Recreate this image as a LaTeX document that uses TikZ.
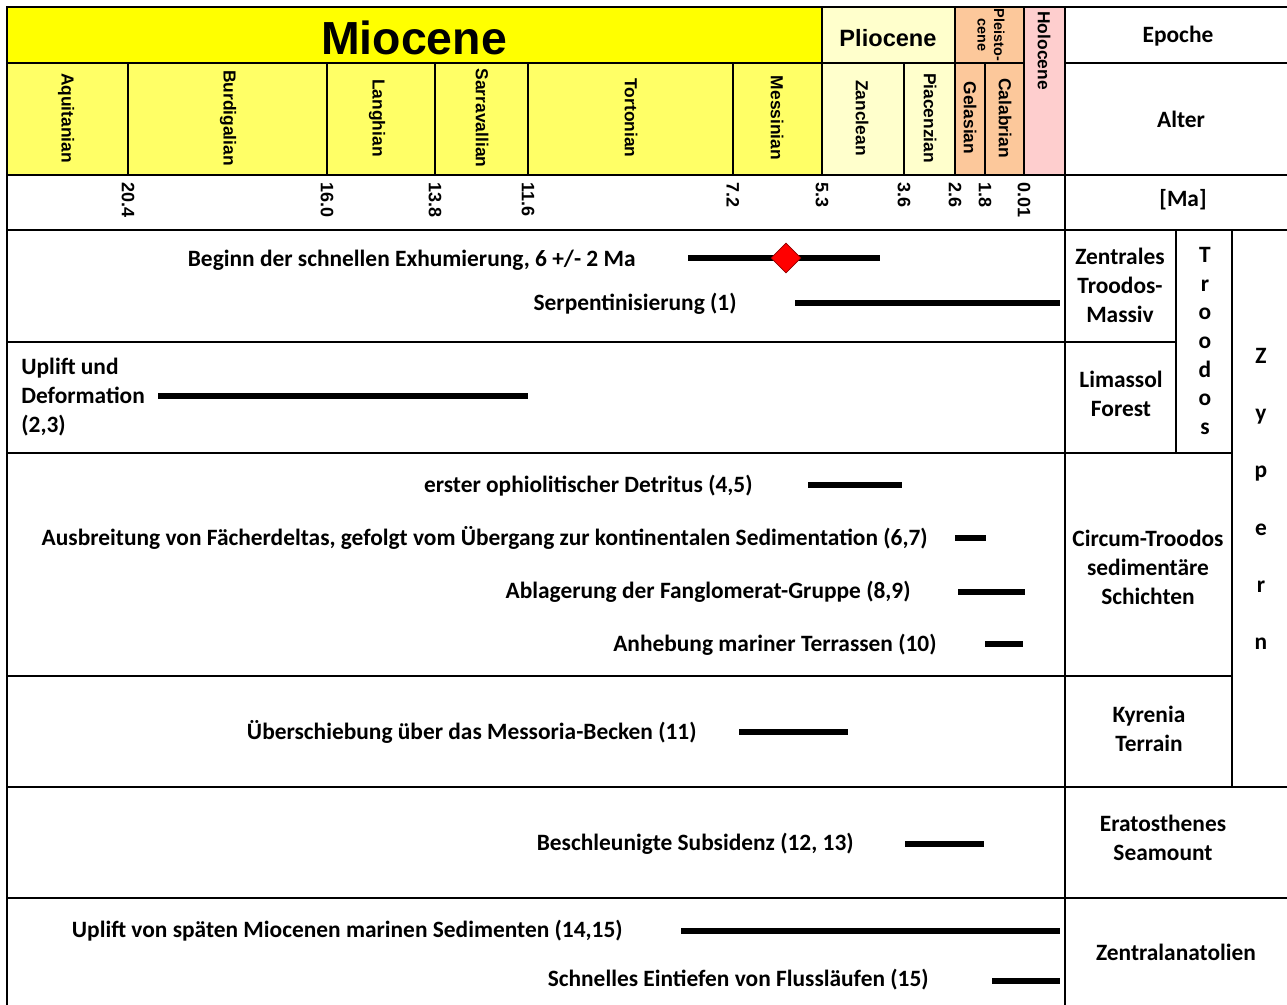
\documentclass[tikz,border=0pt]{standalone}
\usepackage{fontspec}
\setmainfont{Carlito}
\newfontfamily\hdrfont{Liberation Sans}
\usetikzlibrary{shapes.geometric}
\usetikzlibrary{positioning}
\definecolor{mioyel}{RGB}{255,255,0}
\definecolor{miostage}{RGB}{255,255,102}
\definecolor{plio}{RGB}{255,255,204}
\definecolor{pleist}{RGB}{252,200,155}
\definecolor{holo}{RGB}{254,206,206}
\tikzset{
  grid/.style={line width=1pt},
  bar/.style={line width=3pt},
  epochlabel/.style={font=\hdrfont\bfseries\fontsize{11.8}{13}\selectfont},
  stagelabel/.style={rotate=-90, font=\hdrfont\bfseries\fontsize{8.7}{10}\selectfont},
  malabel/.style={rotate=-90, anchor=west, inner sep=0pt, font=\hdrfont\bfseries\fontsize{9}{10}\selectfont},
  event/.style={anchor=east, inner sep=0pt, font=\bfseries\fontsize{11.7}{14.3}\selectfont},
  unit/.style={align=center, font=\bfseries\fontsize{11.7}{14.5}\selectfont},
  onset/.style={diamond, fill=red, draw=red!55!black, line width=0.4pt, minimum size=15pt, inner sep=0pt}
  }

\begin{document}
\begin{tikzpicture}[x=0.5pt, y=-0.5pt]
	\useasboundingbox (0,0) rectangle (1287,1005);
	% Colours
	\fill[mioyel] (7,7) rectangle (822,63);
	\fill[plio] (822,7) rectangle (955,175);
	\fill[pleist] (955,7) rectangle (1024,175);
	\fill[holo] (1024,7) rectangle (1065,175);
	\fill[miostage] (7,63) rectangle (822,175);

	% Frame
	\draw[grid] (7,1005) -- (7,7) -- (1287,7);
	\draw[grid] (7,63) -- (1024,63) (1065,63) -- (1287,63);
	\draw[grid] (7,175) -- (1287,175);
	\draw[grid] (7,230) -- (1287,230);
	\draw[grid] (7,342) -- (1176,342);
	\draw[grid] (7,453) -- (1232,453);
	\draw[grid] (7,676) -- (1232,676);
	\draw[grid] (7,787) -- (1287,787);
	\draw[grid] (7,898) -- (1287,898);
	\draw[grid] (1065,7) -- (1065,1005);
	\draw[grid] (1176,230) -- (1176,453);
	\draw[grid] (1232,230) -- (1232,787);
	\foreach \x in {822,955,1024}
		\draw[grid] (\x,7) -- (\x,175);
	\foreach \x in {128,327,435,528,733,904,985}
		\draw[line width=0.6pt] (\x,63) -- (\x,175);

	% Epochs
	\node[font=\hdrfont\bfseries\fontsize{23.2}{26}\selectfont] (miocene) at (414,38) {Miocene};
	\node[epochlabel] (pliocene) at (888,38) {Pliocene};
	\node[rotate=-90, align=center, inner sep=0pt, font=\hdrfont\bfseries\fontsize{7.2}{8.2}\selectfont] (pleistocene) at (991,35) {Pleisto-\\cene};
	\node[stagelabel, anchor=west, inner sep=0pt] (holocene) at (1044,11) {Holocene};

	% Stages
	\node[stagelabel] (aquitanian) at (66,118) {Aquitanian};
	\node[stagelabel] (burdigalian) at (228,118) {Burdigalian};
	\node[stagelabel] (langhian) at (377,118) {Langhian};
	\node[stagelabel] (serravallian) at (482,118) {Sarravallian};
	\node[stagelabel] (tortonian) at (631,118) {Tortonian};
	\node[stagelabel] (messinian) at (777,118) {Messinian};
	\node[stagelabel] (zanclean) at (862,118) {Zanclean};
	\node[stagelabel] (piacenzian) at (930,118) {Piacenzian};
	\node[stagelabel] (gelasian) at (970,118) {Gelasian};
	\node[stagelabel] (calabrian) at (1005,118) {Calabrian};

	% Ages
	\foreach \x/\ma in {128/20.4,327/16.0,435/13.8,528/11.6,733/7.2,822/5.3,904/3.6,955/2.6,985/1.8,1024/0.01}
		\node[malabel] (ma\x) at (\x,182) {\ma};

	% Right column
	\node[unit] (epoche) at (1178,36) {Epoche};
	\node[unit] (alter) at (1181,119) {Alter};
	\node[unit] (maunit) at (1183,200) {[Ma]};
	\node[unit] (zentral) at (1120,285) {Zentrales\\Troodos-\\Massiv};
	\node[unit] (limassol) at (1121,394) {Limassol\\Forest};
	\node[unit, font=\bfseries\fontsize{11.7}{14.35}\selectfont] (troodos) at (1205,341) {T\\r\\o\\o\\d\\o\\s};
	\node[unit, font=\bfseries\fontsize{11.7}{28.6}\selectfont] (zypern) at (1261,499) {Z\\y\\p\\e\\r\\n};
	\node[unit] (circum) at (1148,567) {Circum-Troodos\\sedimentäre\\Schichten};
	\node[unit] (kyrenia) at (1149,729) {Kyrenia\\Terrain};
	\node[unit] (eratosthenes) at (1163,838) {Eratosthenes\\Seamount};
	\node[unit] (anatolien) at (1176,952) {Zentralanatolien};

	% Events
	\node[event] (exhum) at (636,260) {Beginn der schnellen Exhumierung, 6 +/- 2 Ma};
	\node[event] (serpent) at (737,304) {Serpentinisierung (1)};
	\node[event, anchor=west, align=left] (uplift) at (21,397) {Uplift und\\Deformation\\(2,3)};
	\node[event] (detritus) at (753,486) {erster ophiolitischer Detritus (4,5)};
	\node[event] (faecher) at (928,538) {Ausbreitung von Fächerdeltas, gefolgt vom Übergang zur kontinentalen Sedimentation (6,7)};
	\node[event] (fanglo) at (911,592) {Ablagerung der Fanglomerat-Gruppe (8,9)};
	\node[event] (terrassen) at (937,645) {Anhebung mariner Terrassen (10)};
	\node[event] (messoria) at (697,732) {Überschiebung über das Messoria-Becken (11)};
	\node[event] (subsidenz) at (854,844) {Beschleunigte Subsidenz (12, 13)};
	\node[event] (miosed) at (623,931) {Uplift von späten Miocenen marinen Sedimenten (14,15)};
	\node[event] (fluss) at (929,980) {Schnelles Eintiefen von Flussläufen (15)};

	% Bars
	\draw[bar] (688,258) -- (880,258);
	\node[onset] (onset) at (786,258) {};
	\draw[bar] (795,303) -- (1060,303);
	\draw[bar] (158,396) -- (528,396);
	\draw[bar] (808,485) -- (902,485);
	\draw[bar] (955,538) -- (986,538);
	\draw[bar] (958,592) -- (1025,592);
	\draw[bar] (985,644) -- (1023,644);
	\draw[bar] (739,732) -- (848,732);
	\draw[bar] (905,844) -- (984,844);
	\draw[bar] (681,931) -- (1060,931);
	\draw[bar] (992,981) -- (1060,981);
\end{tikzpicture}
\end{document}
